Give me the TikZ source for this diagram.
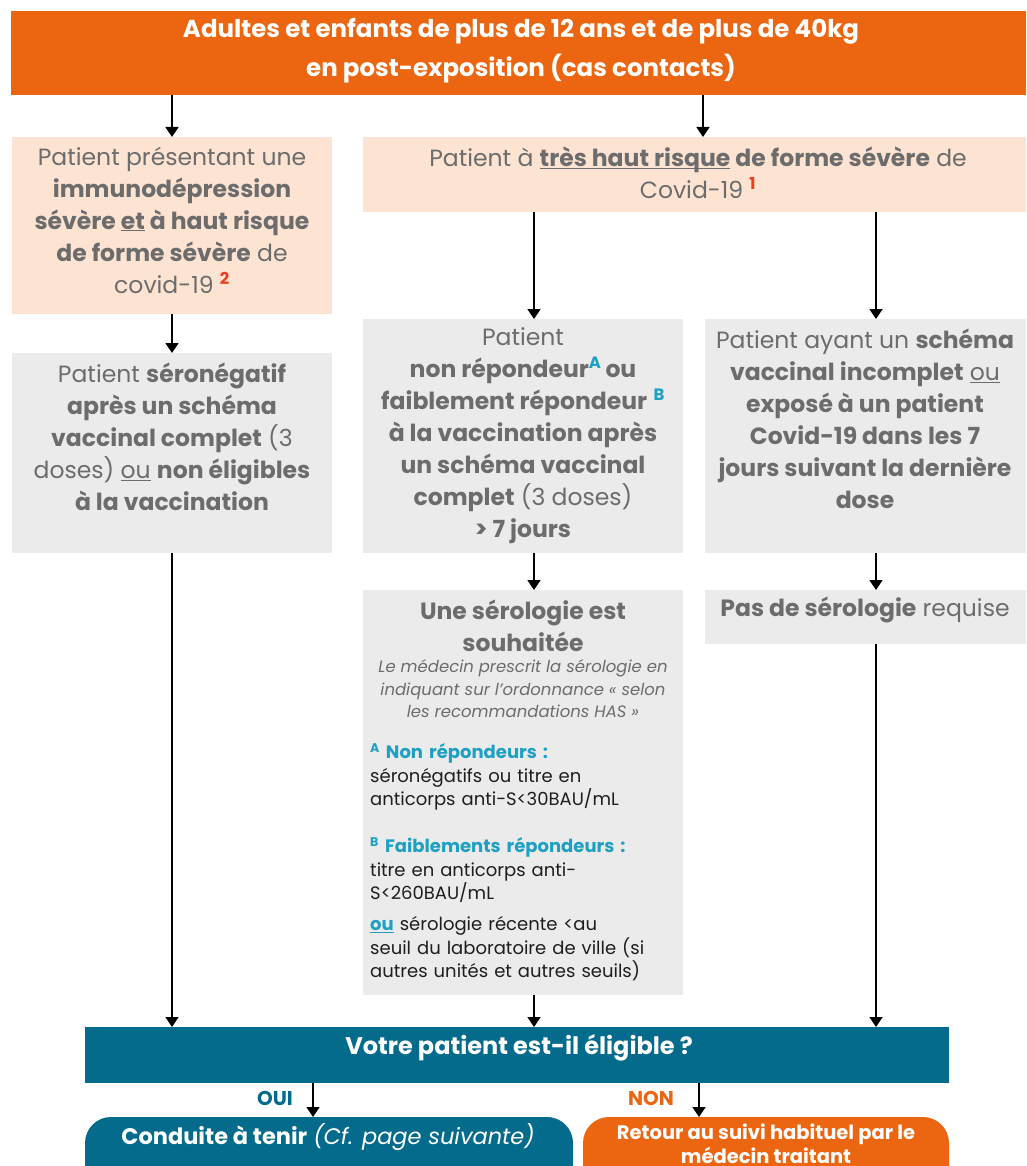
\documentclass[tikz,border=0pt]{standalone}
\usepackage{fontspec}
\setmainfont{Poppins}
\usetikzlibrary{arrows.meta}
\definecolor{topor}{HTML}{EC6611}
\definecolor{peach}{HTML}{FDE3D1}
\definecolor{lgray}{HTML}{EBEBEB}
\definecolor{tgray}{HTML}{6C6C6C}
\definecolor{teal}{HTML}{046B8D}
\definecolor{lblue}{HTML}{1EA0C3}
\definecolor{supred}{HTML}{E8411D}
\definecolor{dtext}{HTML}{1E1E1E}
\newcommand\supr[1]{\textsuperscript{\color{supred}\bfseries #1}}
\newcommand\supb[1]{\textsuperscript{\color{lblue}\bfseries #1}}
\newcommand\ulw[1]{\underline{\smash{#1}}}
\begin{document}
\begin{tikzpicture}[x=1pt,y=-1pt,
  boxn/.style={draw=none,inner sep=0pt,outer sep=0pt,anchor=north west},
  arr/.style={-{Triangle[length=10pt,width=13pt]},line width=1.8pt,black},
  bodytxt/.style={align=center,text=tgray,inner sep=0pt,font=\fontsize{23.5}{32}\selectfont},
  smalltxt/.style={align=left,text=dtext,inner sep=0pt,anchor=west,text width=310pt,font=\fontsize{18}{23.5}\selectfont}]
\clip (0,0) rectangle (1026,1166);
\fill[white] (0,0) rectangle (1026,1166);
% boxes
\node[boxn,fill=topor,minimum width=1015pt,minimum height=84pt] (top) at (11,11) {};
\node[boxn,fill=peach,minimum width=320pt,minimum height=177pt] (imm) at (12,137) {};
\node[boxn,fill=peach,minimum width=663pt,minimum height=75pt] (thr) at (363,137) {};
\node[boxn,fill=lgray,minimum width=320pt,minimum height=200pt] (sero) at (12,353) {};
\node[boxn,fill=lgray,minimum width=320pt,minimum height=234pt] (nonr) at (363,319) {};
\node[boxn,fill=lgray,minimum width=321pt,minimum height=234pt] (inc) at (705,319) {};
\node[boxn,fill=lgray,minimum width=320pt,minimum height=405pt] (souh) at (363,590) {};
\node[boxn,fill=lgray,minimum width=321pt,minimum height=54pt] (pas) at (705,590) {};
\node[boxn,fill=teal,minimum width=864pt,minimum height=56pt] (elig) at (85,1027) {};
\node[boxn,fill=teal,rounded corners=26pt,minimum width=488pt,minimum height=80pt] (oui) at (85,1117) {};
\node[boxn,fill=topor,rounded corners=26pt,minimum width=366pt,minimum height=80pt] (non) at (583,1117) {};
% texts
\node[align=center,text=white,inner sep=0pt,font=\bfseries\fontsize{24.5}{39}\selectfont] (ttop) at (521,51) {Adultes et enfants de plus de 12 ans et de plus de 40kg\\en post-exposition (cas contacts)};
\node[bodytxt] (timm) at (172,220) {Patient présentant une\\\textbf{immunodépression}\\\textbf{sévère \ulw{et} à haut risque}\\\textbf{de forme sévère} de\\covid-19 \supr{2}};
\node[bodytxt] (tthr) at (698,173) {Patient à \textbf{\ulw{très haut risque} de forme sévère} de\\Covid-19 \supr{1}};
\node[bodytxt] (tsero) at (172,437) {Patient \textbf{séronégatif}\\\textbf{après un schéma}\\\textbf{vaccinal complet} (3\\doses) \ulw{ou} \textbf{non éligibles}\\\textbf{à la vaccination}};
\node[bodytxt] (tnonr) at (523,436) {Patient\\\textbf{non répondeur}\supb{A}\,\textbf{ou}\\\textbf{faiblement répondeur} \supb{B}\\\textbf{à la vaccination après}\\\textbf{un schéma vaccinal}\\\textbf{complet} (3 doses)\\\textbf{> 7 jours}};
\node[bodytxt] (tinc) at (865,419) {Patient ayant un \textbf{schéma}\\\textbf{vaccinal incomplet} \ulw{ou}\\\textbf{exposé à un patient}\\\textbf{Covid-19 dans les 7}\\\textbf{jours suivant la dernière}\\\textbf{dose}};
\node[bodytxt] (tpas) at (865,610) {\textbf{Pas de sérologie} requise};
\node[bodytxt] (tsouh) at (523,626) {\textbf{Une sérologie est}\\\textbf{souhaitée}};
\node[align=center,text=tgray,inner sep=0pt,font=\itshape\fontsize{16.5}{22.5}\selectfont] (tpresc) at (523,689) {Le médecin prescrit la sérologie en\\indiquant sur l’ordonnance «~selon\\les recommandations HAS~»};
\node[smalltxt] (tA) at (370,777) {\textsuperscript{\color{lblue}\bfseries A}~{\color{lblue}\bfseries Non répondeurs :}\\séronégatifs ou titre en\\anticorps anti-S<30BAU/mL};
\node[smalltxt] (tB) at (370,870) {\textsuperscript{\color{lblue}\bfseries B}~{\color{lblue}\bfseries Faiblements répondeurs :}\\titre en anticorps anti-\\S<260BAU/mL};
\node[smalltxt] (tC) at (370,949) {{\color{lblue}\bfseries\ulw{ou}} sérologie récente <au\\seuil du laboratoire de ville (si\\autres unités et autres seuils)};
\node[text=white,inner sep=0pt,font=\bfseries\fontsize{24}{28}\selectfont] (telig) at (519,1048) {Votre patient est-il éligible ?};
\node[text=teal,inner sep=0pt,font=\bfseries\fontsize{20}{24}\selectfont] (loui) at (275,1098) {OUI};
\node[text=topor,inner sep=0pt,font=\bfseries\fontsize{20}{24}\selectfont] (lnon) at (651,1098) {NON};
\node[text=white,inner sep=0pt,font=\fontsize{22.5}{26}\selectfont] (toui) at (328,1137) {\textbf{Conduite à tenir} \textit{(Cf. page suivante)}};
\node[text=white,inner sep=0pt,align=center,font=\bfseries\fontsize{19.5}{24}\selectfont] (tnon) at (766,1144) {Retour au suivi habituel par le\\médecin traitant};
% connectors
\coordinate (x1) at (172,0);
\coordinate (x2) at (703,0);
\coordinate (x3) at (534,0);
\coordinate (x4) at (876,0);
\coordinate (x5) at (313,0);
\coordinate (x6) at (699,0);
\draw[arr] (top.south -| x1) -- (imm.north -| x1);
\draw[arr] (top.south -| x2) -- (thr.north -| x2);
\draw[arr] (imm.south -| x1) -- (sero.north -| x1);
\draw[arr] (thr.south -| x3) -- (nonr.north -| x3);
\draw[arr] (thr.south -| x4) -- (inc.north -| x4);
\draw[arr] (nonr.south -| x3) -- (souh.north -| x3);
\draw[arr] (inc.south -| x4) -- (pas.north -| x4);
\draw[arr] (sero.south -| x1) -- (elig.north -| x1);
\draw[arr] (souh.south -| x3) -- (elig.north -| x3);
\draw[arr] (pas.south -| x4) -- (elig.north -| x4);
\draw[arr] (elig.south -| x5) -- (oui.north -| x5);
\draw[arr] (elig.south -| x6) -- (non.north -| x6);
\end{tikzpicture}
\end{document}
